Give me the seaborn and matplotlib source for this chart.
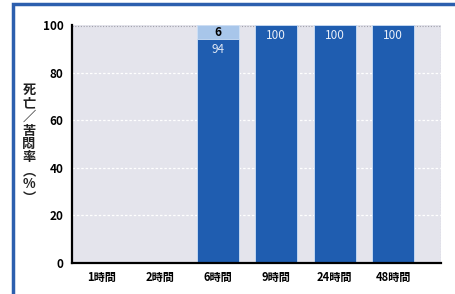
import matplotlib
matplotlib.use("Agg")
import matplotlib.pyplot as plt
import seaborn as sns
import pandas as pd
from matplotlib.patches import Rectangle

# data
categories = ["1時間", "2時間", "6時間", "9時間", "24時間", "48時間"]
death = [0, 0, 94, 100, 100, 100]
agony = [0, 0, 6, 0, 0, 0]
yticks = [0, 20, 40, 60, 80, 100]

sns.set_theme(style="white")
plt.rcParams['font.family'] = ['Noto Sans CJK JP', 'DejaVu Sans']

df = pd.DataFrame({"time": categories, "death": death, "agony": agony})
df["total"] = df["death"] + df["agony"]

fig = plt.figure(figsize=(4.56, 2.94), dpi=100)
fig.patch.set_facecolor("white")
fig.patches.append(Rectangle((13 / 456, -0.05), 1.2, 1.05 - 4 / 294, transform=fig.transFigure,
                             fill=False, edgecolor="#2c5fae", linewidth=2.5, zorder=0))

ax = fig.add_axes([72 / 456, 31 / 294, 369 / 456, 238 / 294])
ax.set_facecolor("#e4e4ec")

sns.barplot(data=df, x="time", y="total", order=categories, color="#a8c6ea",
            width=0.72, saturation=1, edgecolor="#cfe0f5", linewidth=0.6, ax=ax, zorder=2)
sns.barplot(data=df, x="time", y="death", order=categories, color="#1f5db0",
            width=0.72, saturation=1, edgecolor="#cfe0f5", linewidth=0.6, ax=ax, zorder=3)

for i, (d, a) in enumerate(zip(death, agony)):
    if a > 0:
        ax.text(i, d + a / 2 - 0.3, str(a), ha="center", va="center", fontsize=8.5,
                fontweight="bold", color="black", zorder=5)
        ax.text(i, d - 4.5, str(d), ha="center", va="center", fontsize=8.5,
                color="#dfe8f5", zorder=5)
    elif d > 0:
        ax.text(i, d - 4.5, str(d), ha="center", va="center", fontsize=8.5,
                color="#e8eef8", zorder=5)

for y in yticks[1:-1]:
    ax.axhline(y, color="white", linestyle=(0, (2, 1.5)), linewidth=0.9, zorder=1)
ax.axhline(99.6, color="#a0a0aa", linestyle=(0, (1, 1.5)), linewidth=0.8, zorder=1)
ax.axvline(5.82, color="#9a9aa4", linestyle=(0, (1, 1.5)), linewidth=0.8, zorder=1)

ax.set_xlim(-0.5, 5.82)
ax.set_ylim(0, 100)
ax.set_yticks(yticks)
ax.set_yticklabels([str(v) for v in yticks], fontsize=8.5, fontweight="bold")
ax.set_xticks(range(len(categories)))
ax.set_xticklabels(categories, fontsize=8, fontweight="bold")
ax.tick_params(axis="both", length=0, pad=6, colors="black")
ax.set_xlabel("")
ax.set_ylabel("")

for side in ["top", "right"]:
    ax.spines[side].set_visible(False)
for side in ["left", "bottom"]:
    ax.spines[side].set_color("black")
    ax.spines[side].set_linewidth(1.6)
    ax.spines[side].set_zorder(6)

fig.text(29 / 456, 1 - 144 / 294, "死\n亡\n／\n苦\n悶\n率\n︵\n%\n︶", ha="center", va="center",
         fontsize=9.5, fontweight="bold", linespacing=0.95, color="#222222")

fig.savefig("out.png", dpi=100)
